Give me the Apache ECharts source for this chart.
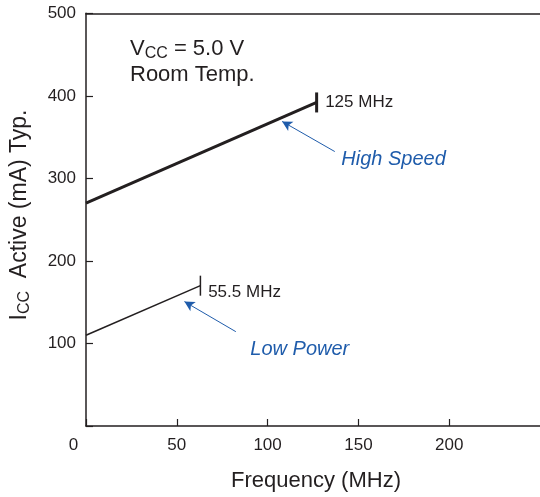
<!DOCTYPE html>
<html>
<head>
<meta charset="utf-8">
<script src="https://cdn.jsdelivr.net/npm/echarts@6/dist/echarts.min.js"></script>
<style>
html,body{margin:0;padding:0;background:#fff;overflow:hidden;}
#chart{width:540px;height:497px;}
</style>
</head>
<body>
<div id="chart"></div>
<script>
// Data
var xTicks = [0, 50, 100, 150, 200];
var yTicks = [100, 200, 300, 400, 500];
var highSpeed = [[0, 270], [127, 392]];
var lowPower = [[0, 110], [63, 170]];
var highSpeedLabel = '125 MHz';
var lowPowerLabel = '55.5 MHz';
// annotations (data coordinates)
var hsArrow = [[137, 332.5], [108, 369]];
var lpArrow = [[82.5, 114.3], [54.2, 150.7]];
var hsText = [140.6, 322.4];
var lpText = [90.5, 93];

var ink = '#231f20';
var blue = '#1f5cab';
var font = 'Liberation Sans, Arial, Helvetica, sans-serif';

var chart = echarts.init(document.getElementById('chart'));

function lineData(pts, label, lblOffset) {
  return pts.map(function (p, i) {
    if (i < pts.length - 1) return { value: p, symbol: 'none' };
    return {
      value: p,
      symbol: 'rect',
      label: {
        show: true, position: 'right', distance: 7, offset: lblOffset,
        formatter: label, color: ink, fontSize: 17, fontFamily: font
      }
    };
  });
}

chart.setOption({
  animation: false,
  backgroundColor: '#fff',
  grid: { left: 86, top: 13.3, right: 0, bottom: 71, show: false },
  xAxis: [{
    type: 'value', min: 0, max: 250, interval: 50,
    name: 'Frequency (MHz)', nameLocation: 'middle', nameGap: 44,
    nameTextStyle: { fontSize: 22, color: ink, fontFamily: font, padding: [0, 0, 0, 6] },
    axisLine: { show: true, lineStyle: { color: ink, width: 1.5 } },
    axisTick: { show: true, inside: true, length: 7, lineStyle: { color: ink, width: 1.2 } },
    splitLine: { show: false },
    axisLabel: {
      margin: 11, fontSize: 17, color: ink, fontFamily: font, showMaxLabel: false,
      formatter: function (v) {
        if (xTicks.indexOf(v) < 0) return '';
        return v === 0 ? '{z|0}' : String(v);
      },
      rich: { z: { fontSize: 17, color: ink, fontFamily: font, padding: [0, 25, 0, 0] } }
    }
  }, {
    type: 'value', position: 'top', min: 0, max: 250,
    axisLine: { show: true, lineStyle: { color: ink, width: 1.5 } },
    axisTick: { show: false }, axisLabel: { show: false }, splitLine: { show: false }
  }],
  yAxis: {
    type: 'value', min: 0, max: 500, interval: 100,
    axisLine: { show: true, lineStyle: { color: ink, width: 1.5 } },
    axisTick: { show: true, inside: true, length: 7, lineStyle: { color: ink, width: 1.2 } },
    splitLine: { show: false },
    axisLabel: {
      margin: 10, fontSize: 17, color: ink, fontFamily: font,
      formatter: function (v) { return yTicks.indexOf(v) < 0 ? '' : String(v); }
    }
  },
  series: [
    {
      type: 'line', name: 'High Speed',
      data: lineData(highSpeed, highSpeedLabel, [0, 0]),
      symbolSize: [3, 20],
      itemStyle: { color: ink },
      lineStyle: { color: ink, width: 3 },
      markLine: {
        silent: true, symbol: ['none', 'arrow'], symbolSize: [8, 10],
        lineStyle: { color: blue, width: 1, type: 'solid' },
        label: { show: false },
        data: [[{ coord: hsArrow[0] }, { coord: hsArrow[1] }]]
      },
      markPoint: {
        silent: true, symbol: 'circle', symbolSize: 0,
        data: [{ coord: hsText, label: { show: true, position: 'right', distance: 0, formatter: 'High Speed', color: blue, fontSize: 20, fontStyle: 'italic', fontFamily: font } }]
      }
    },
    {
      type: 'line', name: 'Low Power',
      data: lineData(lowPower, lowPowerLabel, [0, 7]),
      symbolSize: [1.5, 20],
      itemStyle: { color: ink },
      lineStyle: { color: ink, width: 1.5 },
      markLine: {
        silent: true, symbol: ['none', 'arrow'], symbolSize: [8, 10],
        lineStyle: { color: blue, width: 1, type: 'solid' },
        label: { show: false },
        data: [[{ coord: lpArrow[0] }, { coord: lpArrow[1] }]]
      },
      markPoint: {
        silent: true, symbol: 'circle', symbolSize: 0,
        data: [{ coord: lpText, label: { show: true, position: 'right', distance: 0, formatter: 'Low Power', color: blue, fontSize: 20, fontStyle: 'italic', fontFamily: font } }]
      }
    }
  ],
  graphic: [
    {
      type: 'text', left: 130, top: 36,
      style: {
        text: '{m|V}{s|CC}{m| = 5.0 V}\n{m|Room Temp.}',
        fill: ink,
        rich: {
          m: { fontSize: 22, fontFamily: font, fill: ink, lineHeight: 26 },
          s: { fontSize: 16, fontFamily: font, fill: ink, lineHeight: 26, padding: [10, 0, 0, 0] }
        }
      }
    },
    {
      type: 'text', x: 20, y: 215, rotation: Math.PI / 2,
      style: {
        text: '{m|I}{s|CC}{m|  Active (mA) Typ.}',
        fill: ink, align: 'center', verticalAlign: 'middle',
        rich: {
          m: { fontSize: 23, fontFamily: font, fill: ink },
          s: { fontSize: 16, fontFamily: font, fill: ink, padding: [10, 0, 0, 0] }
        }
      }
    }
  ]
});
</script>
</body>
</html>
